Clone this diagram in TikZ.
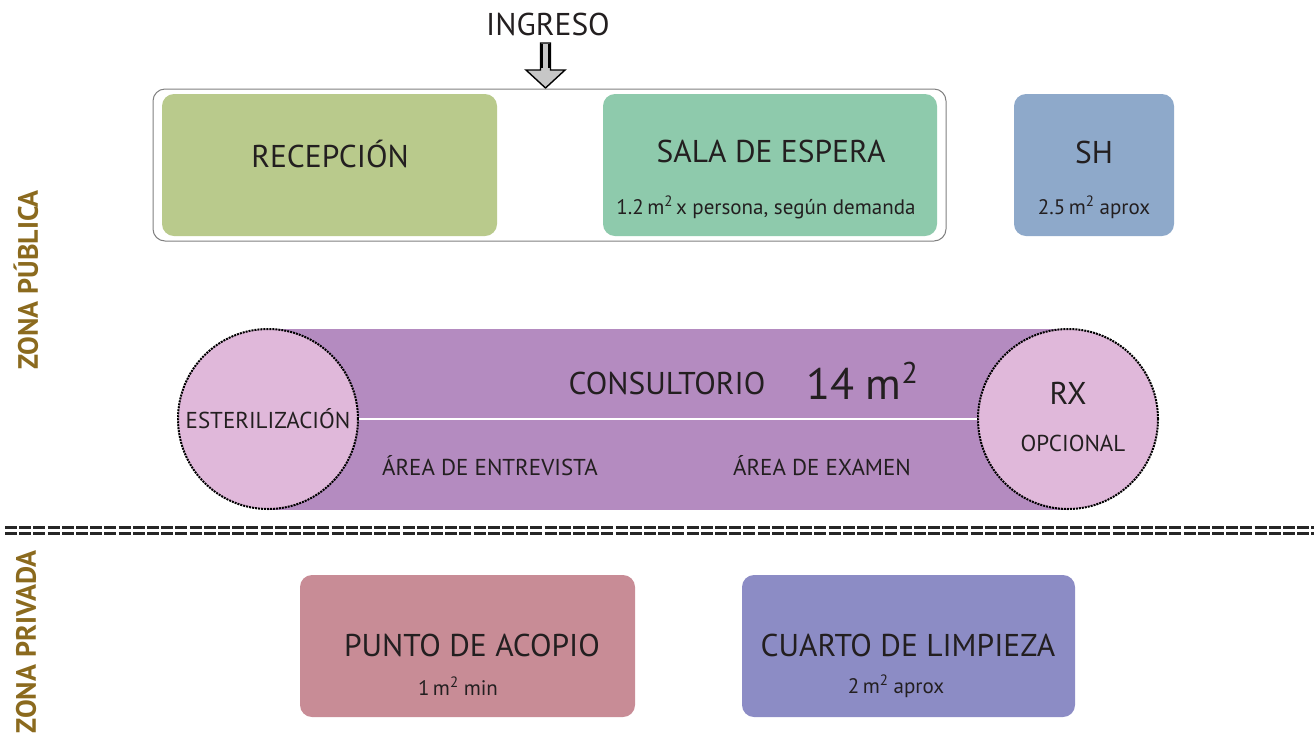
\documentclass[tikz,border=0pt]{standalone}
\usepackage{fontspec}
\setmainfont{PT Sans}
\definecolor{recepcion}{HTML}{B9CA8C}
\definecolor{espera}{HTML}{8ECAAC}
\definecolor{banio}{HTML}{8EA9CA}
\definecolor{consulta}{HTML}{B48BC0}
\definecolor{circulo}{HTML}{E0B8DA}
\definecolor{acopio}{HTML}{C88C96}
\definecolor{limpieza}{HTML}{8C8CC5}
\definecolor{zona}{HTML}{8B6A1E}
\definecolor{texto}{HTML}{231F20}
\newcommand{\titulo}{\fontsize{31.5}{33}\selectfont}
\newcommand{\nota}{\fontsize{21}{23}\selectfont}
\newcommand{\media}{\fontsize{23}{25}\selectfont}
\newcommand{\cuad}{\,m\raisebox{0.75ex}{\fontsize{15}{16}\selectfont 2}}
\tikzset{
  ambiente/.style={rounded corners=12pt, draw=none},
  circulo/.style={circle, fill=circulo, draw=black, densely dotted, line width=2pt, minimum size=180pt, inner sep=0pt},
  etiqueta/.style={text=texto, inner sep=0pt},
  zonatxt/.style={text=zona, rotate=90, font=\fontsize{28}{30}\selectfont\bfseries, inner sep=0pt},
  divisor/.style={line width=3pt, dash pattern=on 12pt off 2.2pt, draw=black!85}
}
\begin{document}
\begin{tikzpicture}[x=1pt,y=-1pt]
		\useasboundingbox (0,0) rectangle (1314,740);

		% zona publica
		\node[etiqueta, font=\titulo] (ingreso) at (548,24) {INGRESO};
		\draw[fill=black!22, line width=1.4pt] (540.5,43) -- (550.5,43) -- (550.5,70) -- (565,70) -- (545.5,88) -- (526,70) -- (540.5,70) -- cycle;
		\draw[black, line width=2.5pt] (541.5,44) -- (541.5,68) (549.5,44) -- (549.5,68);
		\draw[rounded corners=12pt, draw=black!50, line width=1pt, fill=white] (153,89) rectangle (946,241);
		\fill[ambiente, fill=recepcion] (162,94) rectangle (497,236);
		\fill[ambiente, fill=espera] (603,94) rectangle (937,236);
		\fill[ambiente, fill=banio] (1014,94) rectangle (1174,236);
		\node[etiqueta, font=\titulo] (recep) at (330,154) {RECEPCIÓN};
		\node[etiqueta, font=\titulo] (sala) at (771,151) {SALA DE ESPERA};
		\node[etiqueta, font=\nota] (salam) at (766,207) {1.2\cuad\,x persona, según demanda};
		\node[etiqueta, font=\titulo] (sh) at (1094,152) {SH};
		\node[etiqueta, font=\nota] (shm) at (1094,207) {2.5\cuad\ aprox};
		\node[zonatxt] (publica) at (26,280) {ZONA PÚBLICA};

		% consultorio
		\fill[consulta] (268,329) rectangle (1068,510);
		\draw[white, line width=2pt] (268,419) -- (1068,419);
		\node[circulo] (ester) at (268,419) {};
		\node[circulo] (rx) at (1068,419) {};
		\node[etiqueta, font=\media] at (ester) {ESTERILIZACIÓN};
		\node[etiqueta, font=\titulo] (consul) at (667,383) {CONSULTORIO};
		\node[etiqueta, font=\fontsize{44}{46}\selectfont] (area) at (862,381) {14 m\raisebox{0.7ex}{\fontsize{30}{32}\selectfont 2}};
		\node[etiqueta, font=\media] (entrev) at (490,466) {ÁREA DE ENTREVISTA};
		\node[etiqueta, font=\media] (examen) at (822,466) {ÁREA DE EXAMEN};
		\node[etiqueta, font=\titulo] (rxt) at (1068,393) {RX};
		\node[etiqueta, font=\media] (opc) at (1073,443) {OPCIONAL};

		% division
		\draw[divisor] (5,527) -- (1314,527);
		\draw[divisor] (5,533) -- (1314,533);

		% zona privada
		\node[zonatxt] (privada) at (26,642) {ZONA PRIVADA};
		\fill[ambiente, fill=acopio] (300,575) rectangle (635,717);
		\fill[ambiente, fill=limpieza] (742,575) rectangle (1075,717);
		\node[etiqueta, font=\titulo] (punto) at (472,645) {PUNTO DE ACOPIO};
		\node[etiqueta, font=\nota] (puntom) at (458,686) {1\cuad\ min};
		\node[etiqueta, font=\titulo] (cuarto) at (908,645) {CUARTO DE LIMPIEZA};
		\node[etiqueta, font=\nota] (cuartom) at (896,686) {2\cuad\ aprox};
	\end{tikzpicture}
\end{document}
